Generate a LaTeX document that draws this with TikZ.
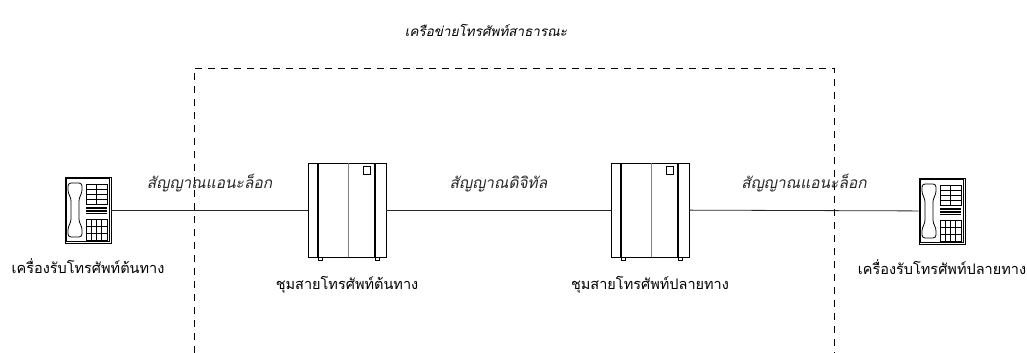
\documentclass[tikz,border=0pt]{standalone}
\usepackage{fontspec}
\newfontfamily\thaifont[Script=Thai]{Loma}
\newfontfamily\thaislant[Script=Thai,FakeSlant=0.2]{Loma}
\usetikzlibrary{positioning}

% telephone set: double frame, handset, two key pads and a grille
\tikzset{
  pics/telset/.style={code={
    \node[draw, line width=0.9pt, minimum width=46pt, minimum height=66pt, inner sep=0pt] (-box) {};
    \draw[line width=0.5pt] (-21.4,-31.4) rectangle (21.4,31.4);
    \draw[line width=0.8pt, rounded corners=3pt]
      (-20,-27) -- (-6,-27) -- (-6,-17) -- (-9,-12) -- (-9,12) -- (-6,17) -- (-6,27)
      -- (-20,27) -- (-20,17) -- (-17,12) -- (-17,-12) -- (-20,-17) -- cycle;
    \draw[line width=0.6pt] (-2,-26) rectangle (19,-6) (8.5,-26) -- (8.5,-6);
    \foreach \y in {-21,-16,-11} \draw[line width=0.6pt] (-2,\y) -- (19,\y);
    \foreach \y in {-3.2,-1.6,0,1.6,3.2} \draw[line width=0.6pt] (-2,\y) -- (19,\y);
    \draw[line width=0.6pt] (-2,9) rectangle (19,30);
    \foreach \x in {3.25,8.5,13.75} \draw[line width=0.6pt] (\x,9) -- (\x,30);
    \foreach \y in {16,23} \draw[line width=0.6pt] (-2,\y) -- (19,\y);
  }},
  % exchange cabinet
  pics/exchange/.style={code={
    \node[draw, line width=0.8pt, minimum width=78pt, minimum height=94pt, inner sep=0pt] (-box) {};
    \draw[line width=1.2pt] (-29,-47) -- (-29,47) (28,-47) -- (28,47);
    \draw[gray, line width=0.8pt] (1,-47) -- (1,47);
    \draw[line width=0.6pt] (16,-44) rectangle (23,-36);
    \draw[line width=0.6pt] (-29,47) rectangle (-25,50) (28,47) rectangle (32,50);
  }}
}

\begin{document}
\begin{tikzpicture}[x=1pt, y=-1pt,
    link/.style={line width=0.8pt, black!85},
    frame/.style={line width=0.8pt, dash pattern=on 7pt off 6pt},
    sig/.style={font=\thaislant\fontsize{15.5}{18}\selectfont, inner sep=1pt},
    lbl/.style={font=\thaifont\fontsize{14.5}{17}\selectfont, inner sep=1pt}]
  \useasboundingbox (0,0) rectangle (1027,353);

  \node[sig, font=\thaislant\fontsize{13.5}{16}\selectfont] (net) at (486,30) {เครือข่ายโทรศัพท์สาธารณะ};
  \draw[frame] (194,353) |- (834,68) -- (834,353);

  \pic (telsrc) at (88,210) {telset};
  \pic (exsrc) at (347,210) {exchange};
  \pic (exdst) at (650,210) {exchange};
  \pic (teldst) at (942,211) {telset};

  \node[lbl, below=14pt of telsrc-box] (telsrc-lbl) {เครื่องรับโทรศัพท์ต้นทาง};
  \node[lbl, below=18pt of exsrc-box] (exsrc-lbl) {ชุมสายโทรศัพท์ต้นทาง};
  \node[lbl, below=18pt of exdst-box] (exdst-lbl) {ชุมสายโทรศัพท์ปลายทาง};
  \node[lbl, below=14pt of teldst-box] (teldst-lbl) {เครื่องรับโทรศัพท์ปลายทาง};

  \draw[link] (telsrc-box) -- node[sig, midway, above=17pt] (sig-a) {สัญญาณแอนะล็อก} (exsrc-box);
  \draw[link] (exsrc-box) -- node[sig, midway, above=17pt] (sig-d) {สัญญาณดิจิทัล} (exdst-box);
  \draw[link] (exdst-box) -- node[sig, midway, above=17pt] (sig-b) {สัญญาณแอนะล็อก} (teldst-box);
\end{tikzpicture}
\end{document}
